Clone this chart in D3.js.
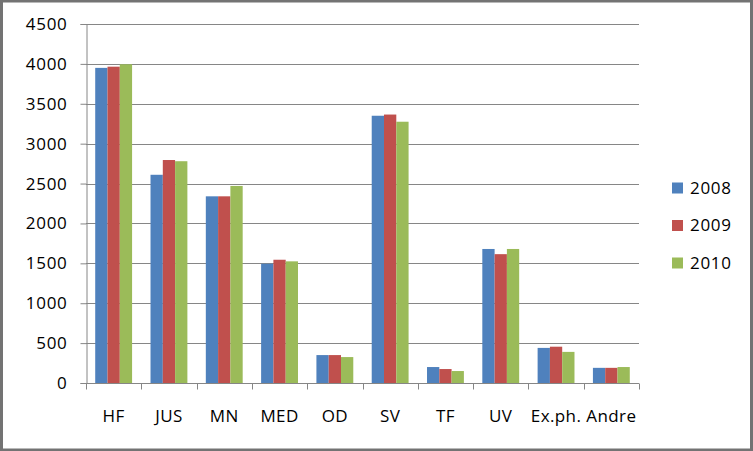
<!DOCTYPE html>
<html>
<head>
<meta charset="utf-8">
<script src="https://cdn.jsdelivr.net/npm/d3@7"></script>
<style>
    body { margin: 0; background: #fff; }
    text { font-family: "Open Sans", sans-serif; fill: #000; }
</style>
</head>
<body>
<div id="chart"></div>
<script>

    // data
    var categories = ["HF", "JUS", "MN", "MED", "OD", "SV", "TF", "UV", "Ex.ph.", "Andre"];
    var series = ["2008", "2009", "2010"];
    var values2008 = [3950, 2610, 2340, 1495, 350, 3350, 200, 1680, 440, 190];
    var values2009 = [3965, 2795, 2340, 1545, 350, 3365, 175, 1615, 455, 190];
    var values2010 = [3995, 2780, 2470, 1525, 325, 3275, 150, 1680, 390, 200];
    var yTicks = [0, 500, 1000, 1500, 2000, 2500, 3000, 3500, 4000, 4500];
    var colors = ["#4f81bd", "#c0504d", "#9bbb59"];

    var allValues = [values2008, values2009, values2010];

    var width = 753, height = 451;
    var plot = {left: 86, right: 639, top: 24, bottom: 383};

    var svg = d3.select("#chart")
        .append("svg")
        .attr("width", width)
        .attr("height", height);

    // outer frame
    svg.append("rect")
        .attr("x", 1.5)
        .attr("y", 1)
        .attr("width", width - 3)
        .attr("height", height - 2)
        .attr("fill", "#fff")
        .attr("stroke", "#737373")
        .attr("stroke-width", 3);

    var x0 = d3.scaleBand()
        .domain(categories)
        .range([plot.left, plot.right])
        .padding(0);

    var x1 = d3.scaleBand()
        .domain(series)
        .range([0, x0.bandwidth()])
        .paddingInner(0)
        .paddingOuter(0.75);

    var y = d3.scaleLinear()
        .domain([0, 4500])
        .range([plot.bottom, plot.top]);

    // gridlines
    svg.append("g")
        .selectAll("line")
        .data(yTicks.filter(function (d) { return d > 0; }))
        .enter()
        .append("line")
        .attr("x1", plot.left)
        .attr("x2", plot.right)
        .attr("y1", function (d) { return Math.round(y(d)) + 0.5; })
        .attr("y2", function (d) { return Math.round(y(d)) + 0.5; })
        .attr("stroke", "#868686")
        .attr("stroke-width", 1);

    // Y axis
    var yAxis = svg.append("g")
        .attr("transform", "translate(" + (plot.left + 0.5) + ",0)")
        .call(d3.axisLeft(y).tickValues(yTicks).tickFormat(d3.format("d")).tickSize(6).tickPadding(13));
    yAxis.select(".domain").attr("stroke", "#868686");
    yAxis.selectAll(".tick line").attr("stroke", "#868686");
    yAxis.selectAll(".tick text")
        .style("font-size", "17px")
        .style("letter-spacing", "0.7px");

    // bars
    series.forEach(function (s, i) {
        svg.append("g")
            .selectAll("rect")
            .data(categories)
            .enter()
            .append("rect")
            .attr("x", function (d) { return x0(d) + x1(s); })
            .attr("y", function (d, j) { return y(allValues[i][j]); })
            .attr("width", x1.bandwidth())
            .attr("height", function (d, j) { return y(0) - y(allValues[i][j]); })
            .attr("fill", colors[i]);
    });

    // X axis with ticks on the category boundaries
    var xAxis = svg.append("g")
        .attr("transform", "translate(0," + (plot.bottom + 0.5) + ")");
    xAxis.append("line")
        .attr("x1", plot.left)
        .attr("x2", plot.right)
        .attr("stroke", "#868686");
    xAxis.selectAll("line.tick")
        .data(categories.concat(["end"]))
        .enter()
        .append("line")
        .attr("class", "tick")
        .attr("x1", function (d, i) { return Math.round(plot.left + i * x0.step()) + 0.5; })
        .attr("x2", function (d, i) { return Math.round(plot.left + i * x0.step()) + 0.5; })
        .attr("y1", 0)
        .attr("y2", 6)
        .attr("stroke", "#868686");
    xAxis.selectAll("text")
        .data(categories)
        .enter()
        .append("text")
        .attr("x", function (d) { return x0(d) + x0.bandwidth() / 2; })
        .attr("y", 33)
        .attr("dy", "0.35em")
        .style("text-anchor", "middle")
        .style("font-size", "17px")
        .style("letter-spacing", "0.4px")
        .text(function (d) { return d; });

    // legend
    var legend = svg.append("g")
        .selectAll("g")
        .data(series)
        .enter()
        .append("g")
        .attr("transform", function (d, i) { return "translate(672," + (188 + i * 37.5) + ")"; });
    legend.append("rect")
        .attr("x", 0)
        .attr("y", -5.5)
        .attr("width", 11)
        .attr("height", 11)
        .attr("fill", function (d, i) { return colors[i]; });
    legend.append("text")
        .attr("x", 18)
        .attr("dy", "0.35em")
        .style("font-size", "17px")
        .style("letter-spacing", "0.7px")
        .text(function (d) { return d; });

</script>
</body>
</html>
